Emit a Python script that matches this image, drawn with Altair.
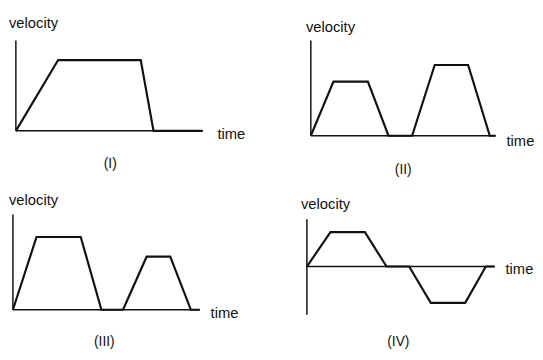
import altair as alt
import pandas as pd

# Panel data: time and velocity (arbitrary units)
t1 = [0, 4.3, 12.7, 14.0, 19.0]
v1 = [0, 7.2, 7.2, 0, 0]

t2 = [0, 2.3, 5.8, 7.9, 10.3, 12.6, 16.0, 18.2, 18.8]
v2 = [0, 5.5, 5.5, 0, 0, 7.2, 7.2, 0, 0]

t3 = [0, 2.4, 6.9, 9.0, 11.2, 13.6, 16.0, 18.1, 19.0]
v3 = [0, 7.4, 7.4, 0, 0, 5.4, 5.4, 0, 0]

t4 = [0, 2.4, 5.9, 8.1, 10.4, 12.6, 16.1, 18.2, 19.1]
v4 = [0, 3.5, 3.5, 0, 0, -3.7, -3.7, 0, 0]

# axis extents: (time end, velocity top, velocity bottom)
axes_ext = {
    "I": (19.0, 9.2, 0.0),
    "II": (18.8, 9.7, 0.0),
    "III": (19.0, 9.7, 0.0),
    "IV": (19.1, 4.8, -4.9),
}

numerals = ["(I)", "(II)", "(III)", "(IV)"]
ylabel = "velocity"
xlabel = "time"

INK = "#111111"
FONT = "Liberation Sans"


def panel(t, v, ext, xdom, ydom, W, H, lab_v, lab_t, lab_n, numeral):
    xs = alt.Scale(domain=xdom, nice=False, zero=False)
    ys = alt.Scale(domain=ydom, nice=False, zero=False)
    df = pd.DataFrame({"t": t, "v": v, "o": list(range(len(t)))})
    curve = alt.Chart(df).mark_line(color=INK, strokeWidth=2.2).encode(
        x=alt.X("t:Q", scale=xs, axis=None),
        y=alt.Y("v:Q", scale=ys, axis=None),
        order="o:Q",
    )
    t_end, v_top, v_bot = ext
    vaxis = alt.Chart(pd.DataFrame({"x": [0], "y": [v_bot], "y2": [v_top]})).mark_rule(
        color=INK, strokeWidth=1.5
    ).encode(
        x=alt.X("x:Q", scale=xs, axis=None),
        y=alt.Y("y:Q", scale=ys, axis=None), y2="y2:Q",
    )
    haxis = alt.Chart(pd.DataFrame({"x": [0], "x2": [t_end], "y": [0]})).mark_rule(
        color=INK, strokeWidth=1.5
    ).encode(
        x=alt.X("x:Q", scale=xs, axis=None), x2="x2:Q",
        y=alt.Y("y:Q", scale=ys, axis=None),
    )
    ldf = pd.DataFrame({
        "x": [lab_v[0], lab_t[0]],
        "y": [lab_v[1], lab_t[1]],
        "s": [ylabel, xlabel],
    })
    labels = alt.Chart(ldf).mark_text(
        align="left", baseline="middle", font=FONT, fontSize=15, color=INK,
        clip=True,
    ).encode(
        x=alt.X("x:Q", scale=xs, axis=None),
        y=alt.Y("y:Q", scale=ys, axis=None),
        text="s:N",
    )
    ndf = pd.DataFrame({"x": [lab_n[0]], "y": [lab_n[1]], "s": [numeral]})
    num = alt.Chart(ndf).mark_text(
        align="center", baseline="middle", font=FONT, fontSize=14, color=INK,
        clip=True,
    ).encode(
        x=alt.X("x:Q", scale=xs, axis=None),
        y=alt.Y("y:Q", scale=ys, axis=None),
        text="s:N",
    )
    return alt.layer(vaxis, haxis, curve, labels, num).properties(width=W, height=H)


p1 = panel(t1, v1, axes_ext["I"], [-0.7, 25.5], [-5.0, 12.2], 262, 172,
           (-0.7, 11.0), (20.5, -0.3), (9.6, -3.4), numerals[0])
p2 = panel(t2, v2, axes_ext["II"], [-1.9, 22.8], [-4.5, 12.7], 247, 172,
           (-0.5, 11.1), (19.9, -0.5), (9.4, -3.5), numerals[1])
p3 = panel(t3, v3, axes_ext["III"], [-0.4, 25.8], [-4.0, 13.2], 262, 172,
           (-0.4, 11.2), (20.1, -0.3), (9.3, -3.3), numerals[2])
p4 = panel(t4, v4, axes_ext["IV"], [-1.5, 23.2], [-8.4, 8.8], 247, 172,
           (-0.6, 6.3), (20.2, -0.3), (9.3, -7.7), numerals[3])

chart = alt.vconcat(
    alt.hconcat(p1, p2, spacing=26),
    alt.hconcat(p3, p4, spacing=26),
    spacing=0,
).configure_view(stroke=None).properties(padding=0, background="white")

chart.save("out.html", embed_options={"renderer": "svg", "actions": False})
